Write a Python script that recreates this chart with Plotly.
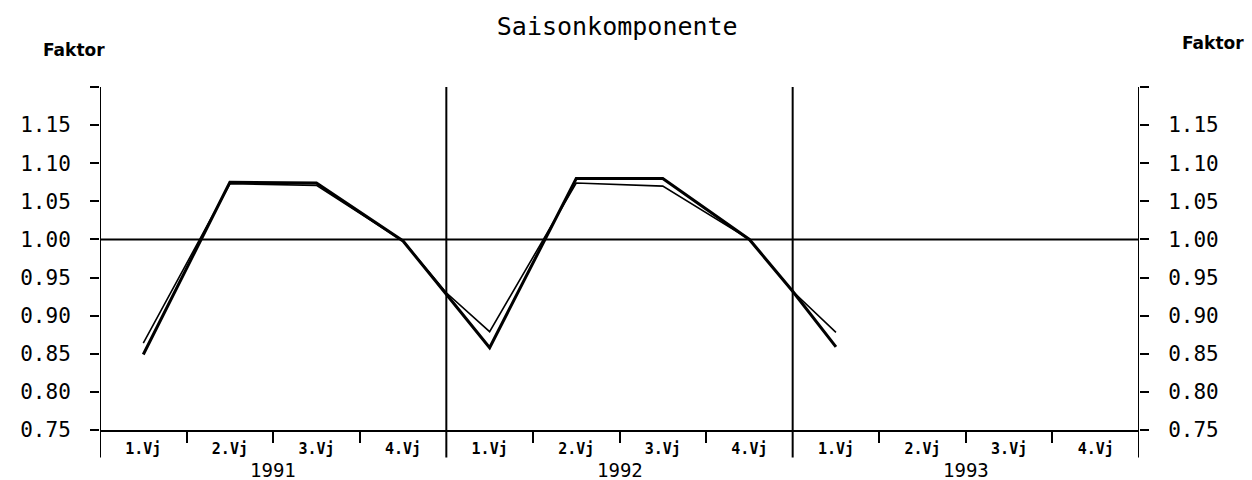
import plotly.graph_objects as go

# ---- data ----
# period index in quarters (0 = start of 1991); x.5 = middle of a quarter,
# integer 4/8 = year boundary where the plotted curves kink
period = [0.5, 1.5, 2.5, 3.5, 4.0, 4.5, 5.5, 6.5, 7.5, 8.0, 8.5]
factor_thick = [0.849, 1.075, 1.074, 0.998, 0.928, 0.858, 1.080, 1.080, 1.000, 0.932, 0.859]
factor_thin = [0.864, 1.073, 1.071, 0.998, 0.930, 0.879, 1.074, 1.070, 1.000, 0.932, 0.878]

quarter_names = ["1.Vj", "2.Vj", "3.Vj", "4.Vj"]
years = ["1991", "1992", "1993"]
y_tickvals = [0.75, 0.80, 0.85, 0.90, 0.95, 1.00, 1.05, 1.10, 1.15, 1.20]
y_ticktext = ["0.75", "0.80", "0.85", "0.90", "0.95", "1.00", "1.05", "1.10", "1.15", ""]

n_q = len(quarter_names) * len(years)
q_centers = [i + 0.5 for i in range(n_q)]
q_labels = [quarter_names[i % 4] for i in range(n_q)]
q_bounds = [i for i in range(1, n_q) if i % 4 != 0]
year_bounds = [i * 4 for i in range(len(years) + 1)]

BLACK = "#000000"
MONO = "DejaVu Sans Mono"

fig = go.Figure()
fig.add_trace(go.Scatter(x=period, y=factor_thin, mode="lines",
                         line=dict(color=BLACK, width=1.6), showlegend=False))
fig.add_trace(go.Scatter(x=period, y=factor_thick, mode="lines",
                         line=dict(color=BLACK, width=3), showlegend=False))
# invisible trace to show right axis
fig.add_trace(go.Scatter(x=[0], y=[1.0], yaxis="y2", mode="lines",
                         line=dict(width=0), showlegend=False, hoverinfo="skip"))

# vertical axis/year divider lines extending below the plot
for b in year_bounds:
    fig.add_shape(type="line", xref="x", yref="paper", x0=b, x1=b,
                  y0=-0.08, y1=1.0, line=dict(color=BLACK, width=2))
# reference line at 1.00
fig.add_shape(type="line", xref="x", yref="y", x0=0, x1=n_q, y0=1.0, y1=1.0,
              line=dict(color=BLACK, width=2))

fig.update_layout(
    width=1252, height=480,
    margin=dict(l=100, r=113, t=87, b=50, autoexpand=False),
    paper_bgcolor="white", plot_bgcolor="white",
    title=dict(text="Saisonkomponente", x=0.493, xanchor="center",
               y=1 - 26 / 480, yanchor="middle", automargin=False,
               font=dict(family=MONO, size=25, color=BLACK)),
    xaxis=dict(range=[0, n_q], showgrid=False, zeroline=False, automargin=False,
               showline=True, linecolor=BLACK, linewidth=2,
               tickvals=q_centers, ticktext=q_labels, ticks="",
               tickfont=dict(family=MONO, size=15, color=BLACK, weight="bold"),
               ticklabelstandoff=4,
               minor=dict(tickvals=q_bounds, ticks="outside", ticklen=11,
                          tickwidth=2, tickcolor=BLACK, showgrid=False)),
    yaxis=dict(range=[0.75, 1.20], showgrid=False, zeroline=False, automargin=False,
               showline=False, tickvals=y_tickvals, ticktext=y_ticktext,
               ticks="outside", ticklen=9, tickwidth=2, tickcolor=BLACK,
               tickfont=dict(family=MONO, size=21, color=BLACK),
               ticklabelstandoff=15),
    yaxis2=dict(range=[0.75, 1.20], overlaying="y", side="right", automargin=False,
                showgrid=False, zeroline=False, showline=False,
                tickvals=y_tickvals, ticktext=y_ticktext,
                ticks="outside", ticklen=9, tickwidth=2, tickcolor=BLACK,
                tickfont=dict(family=MONO, size=21, color=BLACK),
                ticklabelstandoff=15),
)

annotations = [
    dict(text="Faktor", xref="paper", yref="paper", x=(74 - 100) / 1039,
         y=(430 - 50) / 343, xanchor="center", yanchor="middle", showarrow=False,
         font=dict(family="DejaVu Sans", size=17, color=BLACK, weight="bold")),
    dict(text="Faktor", xref="paper", yref="paper", x=(1213 - 100) / 1039,
         y=(430 - 43) / 343, xanchor="center", yanchor="middle", showarrow=False,
         font=dict(family="DejaVu Sans", size=17, color=BLACK, weight="bold")),
]
for i, yr in enumerate(years):
    annotations.append(dict(text=yr, xref="x", yref="paper", x=i * 4 + 2,
                            y=-(470 - 430) / 343, xanchor="center", yanchor="middle",
                            showarrow=False,
                            font=dict(family=MONO, size=19, color=BLACK)))
fig.update_layout(annotations=annotations)

fig.write_html("out.html",
               config={"displayModeBar": False},
               post_script="document.body.style.margin='0';"
                           "document.body.style.overflow='hidden';")
